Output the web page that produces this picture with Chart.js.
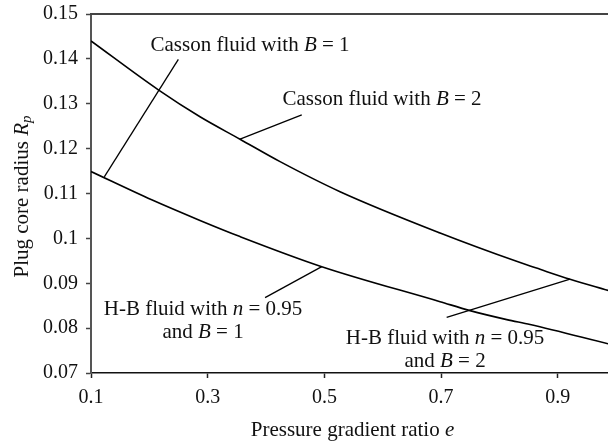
<!DOCTYPE html>
<html>
<head>
<meta charset="utf-8">
<script src="https://cdn.jsdelivr.net/npm/chart.js@4.4.1/dist/chart.umd.min.js"></script>
<style>
  html, body { margin: 0; padding: 0; background: #ffffff; }
  #wrap { width: 608px; height: 444px; }
</style>
</head>
<body>
<div id="wrap"><canvas id="c" width="608" height="444"></canvas></div>
<script>
// ---- data ----
const xTickValues = [0.1, 0.3, 0.5, 0.7, 0.9];
const yTickValues = [0.07, 0.08, 0.09, 0.1, 0.11, 0.12, 0.13, 0.14, 0.15];

// Upper curve: Casson fluid with B = 2 (and H-B fluid n = 0.95, B = 2)
const upperX = [0.1, 0.2154, 0.2868, 0.3554, 0.424, 0.5268, 0.6982, 0.8354, 0.8696, 0.921, 0.9862];
const upperY = [0.1440, 0.1331, 0.1271, 0.1221, 0.1171, 0.1104, 0.1012, 0.0946, 0.0931, 0.0909, 0.0884];

// Lower curve: Casson fluid with B = 1 (and H-B fluid n = 0.95, B = 1)
const lowerX = [0.1, 0.204, 0.2868, 0.3554, 0.4955, 0.6982, 0.7496, 0.8125, 0.8525, 0.9862];
const lowerY = [0.1149, 0.1086, 0.1040, 0.1004, 0.0937, 0.0859, 0.0839, 0.0819, 0.0808, 0.0765];

const xMin = 0.1, xMax = 0.986;
const yMin = 0.07, yMax = 0.15;

// annotation labels (segments: [text, italic])
const labels = [
  { x: 0.3725, y: 0.1429, segs: [["Casson fluid with ", false], ["B", true], [" = 1", false]] },
  { x: 0.5988, y: 0.1309, segs: [["Casson fluid with ", false], ["B", true], [" = 2", false]] },
  { x: 0.292, y: 0.0841, segs: [["H-B fluid with ", false], ["n", true], [" = 0.95", false]] },
  { x: 0.292, y: 0.0790, segs: [["and ", false], ["B", true], [" = 1", false]] },
  { x: 0.7068, y: 0.0776, segs: [["H-B fluid with ", false], ["n", true], [" = 0.95", false]] },
  { x: 0.7068, y: 0.0726, segs: [["and ", false], ["B", true], [" = 2", false]] }
];
// leader lines [x1, y1, x2, y2]
const leaders = [
  [0.1228, 0.1137, 0.2497, 0.1399],
  [0.3554, 0.1221, 0.4612, 0.1275],
  [0.4955, 0.0937, 0.3983, 0.0868],
  [0.921, 0.0909, 0.7095, 0.0824]
];

const FONT = '"Liberation Serif", "Times New Roman", serif';
const TICK_SIZE = 20;
const LABEL_SIZE = 21;

function toPoints(xs, ys) { return xs.map((x, i) => ({ x: x, y: ys[i] })); }

function drawRich(ctx, segs, cx, cy, size) {
  let total = 0;
  const widths = segs.map(s => {
    ctx.font = (s[1] ? 'italic ' : '') + size + 'px ' + FONT;
    const w = ctx.measureText(s[0]).width;
    total += w;
    return w;
  });
  let x = cx - total / 2;
  ctx.textBaseline = 'middle';
  ctx.textAlign = 'left';
  segs.forEach((s, i) => {
    ctx.font = (s[1] ? 'italic ' : '') + size + 'px ' + FONT;
    ctx.fillText(s[0], x, cy);
    x += widths[i];
  });
}

const annotPlugin = {
  id: 'annot',
  afterDraw(chart) {
    const ctx = chart.ctx;
    const xs = chart.scales.x, ys = chart.scales.y;
    const a = chart.chartArea;
    ctx.save();
    // top frame line
    ctx.strokeStyle = '#444';
    ctx.lineWidth = 2;
    ctx.beginPath();
    ctx.moveTo(a.left - 1, a.top);
    ctx.lineTo(a.right, a.top);
    ctx.stroke();
    // leader lines
    ctx.strokeStyle = '#000';
    ctx.lineWidth = 1.3;
    leaders.forEach(l => {
      ctx.beginPath();
      ctx.moveTo(xs.getPixelForValue(l[0]), ys.getPixelForValue(l[1]));
      ctx.lineTo(xs.getPixelForValue(l[2]), ys.getPixelForValue(l[3]));
      ctx.stroke();
    });
    // labels
    ctx.fillStyle = '#111';
    labels.forEach(lb => {
      drawRich(ctx, lb.segs, xs.getPixelForValue(lb.x), ys.getPixelForValue(lb.y), LABEL_SIZE);
    });
    // x axis title
    drawRich(ctx, [["Pressure gradient ratio ", false], ["e", true]], (a.left + a.right) / 2 + 3, 430, LABEL_SIZE);
    // y axis title (rotated) with subscript
    ctx.translate(22, (a.top + a.bottom) / 2 + 3);
    ctx.rotate(-Math.PI / 2);
    ctx.font = LABEL_SIZE + 'px ' + FONT;
    const t1 = "Plug core radius ";
    const w1 = ctx.measureText(t1).width;
    ctx.font = 'italic ' + LABEL_SIZE + 'px ' + FONT;
    const w2 = ctx.measureText("R").width;
    ctx.font = 'italic ' + Math.round(LABEL_SIZE * 0.72) + 'px ' + FONT;
    const w3 = ctx.measureText("p").width;
    let x0 = -(w1 + w2 + w3) / 2;
    ctx.textBaseline = 'middle';
    ctx.textAlign = 'left';
    ctx.font = LABEL_SIZE + 'px ' + FONT;
    ctx.fillText(t1, x0, 0);
    ctx.font = 'italic ' + LABEL_SIZE + 'px ' + FONT;
    ctx.fillText("R", x0 + w1, 0);
    ctx.font = 'italic ' + Math.round(LABEL_SIZE * 0.72) + 'px ' + FONT;
    ctx.fillText("p", x0 + w1 + w2, 5);
    ctx.restore();
  }
};

new Chart(document.getElementById('c'), {
  type: 'line',
  data: {
    datasets: [
      {
        label: 'B = 2',
        data: toPoints(upperX, upperY),
        borderColor: '#000',
        borderWidth: 1.6,
        pointRadius: 0,
        fill: false,
        cubicInterpolationMode: 'monotone'
      },
      {
        label: 'B = 1',
        data: toPoints(lowerX, lowerY),
        borderColor: '#000',
        borderWidth: 1.6,
        pointRadius: 0,
        fill: false,
        cubicInterpolationMode: 'monotone'
      }
    ]
  },
  options: {
    responsive: false,
    animation: false,
    devicePixelRatio: 1,
    layout: { padding: { top: 14, right: 0, left: 0, bottom: 0 } },
    plugins: { legend: { display: false }, tooltip: { enabled: false } },
    scales: {
      x: {
        type: 'linear',
        min: xMin,
        max: xMax,
        afterBuildTicks(scale) { scale.ticks = xTickValues.map(v => ({ value: v })); },
        afterFit(scale) { scale.height = 71; scale.paddingLeft = 0; scale.paddingRight = 0; },
        ticks: {
          color: '#111',
          font: { family: FONT, size: TICK_SIZE },
          padding: 8,
          maxRotation: 0,
          autoSkip: false,
          callback: v => String(parseFloat(Number(v).toFixed(2)))
        },
        grid: { display: true, drawOnChartArea: false, drawTicks: true, tickLength: 5, tickColor: '#222', tickWidth: 1.5 },
        border: { display: true, color: '#111', width: 1.6 }
      },
      y: {
        type: 'linear',
        min: yMin,
        max: yMax,
        afterBuildTicks(scale) { scale.ticks = yTickValues.map(v => ({ value: v })); },
        afterFit(scale) { scale.width = 91; scale.paddingTop = 0; scale.paddingBottom = 0; },
        ticks: {
          color: '#111',
          font: { family: FONT, size: TICK_SIZE },
          padding: 8,
          autoSkip: false,
          callback: v => String(parseFloat(Number(v).toFixed(2)))
        },
        grid: { display: true, drawOnChartArea: false, drawTicks: true, tickLength: 5, tickColor: '#444', tickWidth: 1.5 },
        border: { display: true, color: '#555', width: 2 }
      }
    }
  },
  plugins: [annotPlugin]
});
</script>
</body>
</html>
